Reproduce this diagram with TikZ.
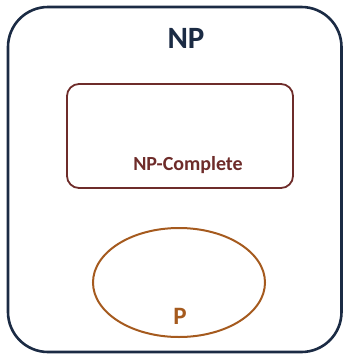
\documentclass[tikz,border=0pt]{standalone}
\usepackage{fontspec}
\setmainfont{Carlito}
\usepackage{tikz}
\usetikzlibrary{shapes.geometric}

\definecolor{npblue}{HTML}{1B2B44}
\definecolor{npcred}{HTML}{6E2C2A}
\definecolor{pbrown}{HTML}{A55A1E}

\begin{document}
\begin{tikzpicture}[x=1pt, y=-1pt,
    npbox/.style={draw=npblue, line width=2.6pt, rounded corners=40pt},
    npcbox/.style={draw=npcred, line width=1.8pt, rounded corners=12pt},
    pset/.style={draw=pbrown, line width=2pt, ellipse},
    lbl/.style={font=\bfseries}]
      \useasboundingbox (0,0) rectangle (343,354);
      \draw[npbox] (8,7) rectangle (341.5,352);
      \node[lbl, text=npblue, font=\bfseries\fontsize{31}{31}\selectfont] (np) at (186,38) {NP};
      \draw[npcbox] (67,84) rectangle (293,188);
      \node[lbl, text=npcred, font=\bfseries\fontsize{20}{20}\selectfont] (npc) at (188,165) {NP-Complete};
      \node[pset, minimum width=172pt, minimum height=109pt, inner sep=0pt] (p) at (179,282.5) {};
      \node[lbl, text=pbrown, font=\bfseries\fontsize{25}{25}\selectfont] (plbl) at (180,316) {P};
    \end{tikzpicture}
\end{document}
